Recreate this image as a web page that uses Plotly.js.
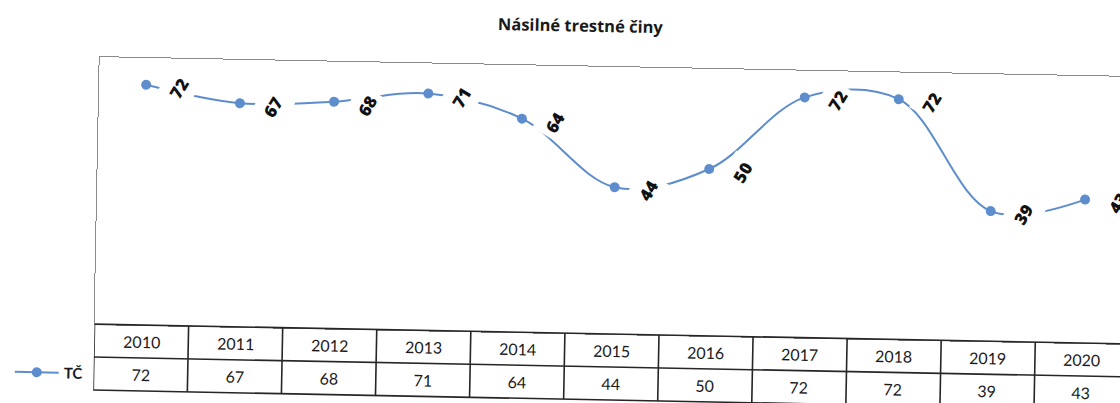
<!DOCTYPE html>
<html>
<head>
<meta charset="utf-8">
<script src="https://cdn.plot.ly/plotly-3.0.1.min.js"></script>
<style>
  html, body { margin: 0; padding: 0; background: #fff; overflow: hidden; width: 1120px; height: 403px; }
  #chart { width: 1132px; height: 403px; transform: rotate(1.1deg); transform-origin: 560px 200px; }
</style>
</head>
<body>
<div id="chart"></div>
<script>
// data
var years = ['2010', '2011', '2012', '2013', '2014', '2015', '2016', '2017', '2018', '2019', '2020'];
var tc = [72, 67, 68, 71, 64, 44, 50, 72, 72, 39, 43];
var seriesName = 'TČ';

var lineColor = 'rgb(93, 141, 205)';
var gridColor = '#262626';
var font = 'Lato, Open Sans, sans-serif';

var trace = {
  x: years,
  y: tc,
  type: 'scatter',
  mode: 'lines+markers',
  name: seriesName,
  line: {color: lineColor, width: 2, shape: 'spline', smoothing: 1},
  marker: {color: lineColor, size: 10},
  cliponaxis: false
};

// rows of the data table under the plot (paper coords)
var rowTop = 0, rowMid = -0.1236, rowBot = -0.2472;
var legendLeft = -1.372;

var shapes = [];
var annotations = [];

years.forEach(function (yr, i) {
  // value label right of the point
  annotations.push({
    x: i, y: tc[i], xref: 'x', yref: 'y',
    text: String(tc[i]),
    showarrow: false, textangle: -60,
    xshift: 33, yshift: -3,
    bgcolor: '#ffffff', borderpad: 5,
    font: {family: 'Open Sans, sans-serif', size: 17, color: '#111111', weight: 800}
  });
  // table: year header and value
  annotations.push({
    x: i, y: (rowTop + rowMid) / 2, xref: 'x', yref: 'paper',
    text: yr, showarrow: false, yanchor: 'middle',
    font: {family: font, size: 16, color: '#1a1a1a'}
  });
  annotations.push({
    x: i, y: (rowMid + rowBot) / 2, xref: 'x', yref: 'paper',
    text: String(tc[i]), showarrow: false, yanchor: 'middle',
    font: {family: font, size: 16, color: '#1a1a1a'}
  });
});

// table grid
for (var i = 0; i <= years.length; i++) {
  shapes.push({type: 'line', xref: 'x', yref: 'paper', x0: i - 0.5, x1: i - 0.5,
    y0: rowTop, y1: rowBot, line: {color: gridColor, width: 1.6}});
}
shapes.push({type: 'line', xref: 'x', yref: 'paper', x0: legendLeft, x1: legendLeft,
  y0: rowMid, y1: rowBot, line: {color: gridColor, width: 1.6}});
shapes.push({type: 'line', xref: 'x', yref: 'paper', x0: -0.5, x1: years.length - 0.5,
  y0: rowTop, y1: rowTop, line: {color: gridColor, width: 1.6}});
[rowMid, rowBot].forEach(function (yy) {
  shapes.push({type: 'line', xref: 'x', yref: 'paper', x0: legendLeft, x1: years.length - 0.5,
    y0: yy, y1: yy, line: {color: gridColor, width: 1.6}});
});

var layout = {
  width: 1132,
  height: 403,
  margin: {l: 97, r: 0, t: 66, b: 70},
  paper_bgcolor: '#fff',
  plot_bgcolor: '#fff',
  title: {
    text: '<b>Násilné trestné činy</b>',
    x: 577 / 1132, xanchor: 'center', y: 1 - 25.5 / 403, yanchor: 'middle',
    font: {family: 'Open Sans, sans-serif', size: 16.5, color: '#1a1a1a'}
  },
  xaxis: {
    type: 'category',
    range: [-0.5, 10.5],
    showticklabels: false, ticks: '', showgrid: false, zeroline: false,
    showline: true, mirror: true, linecolor: '#8a8a8a', linewidth: 1.3
  },
  yaxis: {
    range: [0, 80],
    showticklabels: false, ticks: '', showgrid: false, zeroline: false,
    showline: true, mirror: true, linecolor: '#8a8a8a', linewidth: 1.3
  },
  showlegend: true,
  legend: {
    x: -0.081, xanchor: 'left', y: (rowMid + rowBot) / 2, yanchor: 'middle',
    itemwidth: 44,
    bgcolor: 'rgba(0,0,0,0)', borderwidth: 0,
    font: {family: font, size: 15, color: '#1a1a1a', weight: 'bold'}
  },
  shapes: shapes,
  annotations: annotations
};

Plotly.newPlot('chart', [trace], layout, {displayModeBar: false});
</script>
</body>
</html>
